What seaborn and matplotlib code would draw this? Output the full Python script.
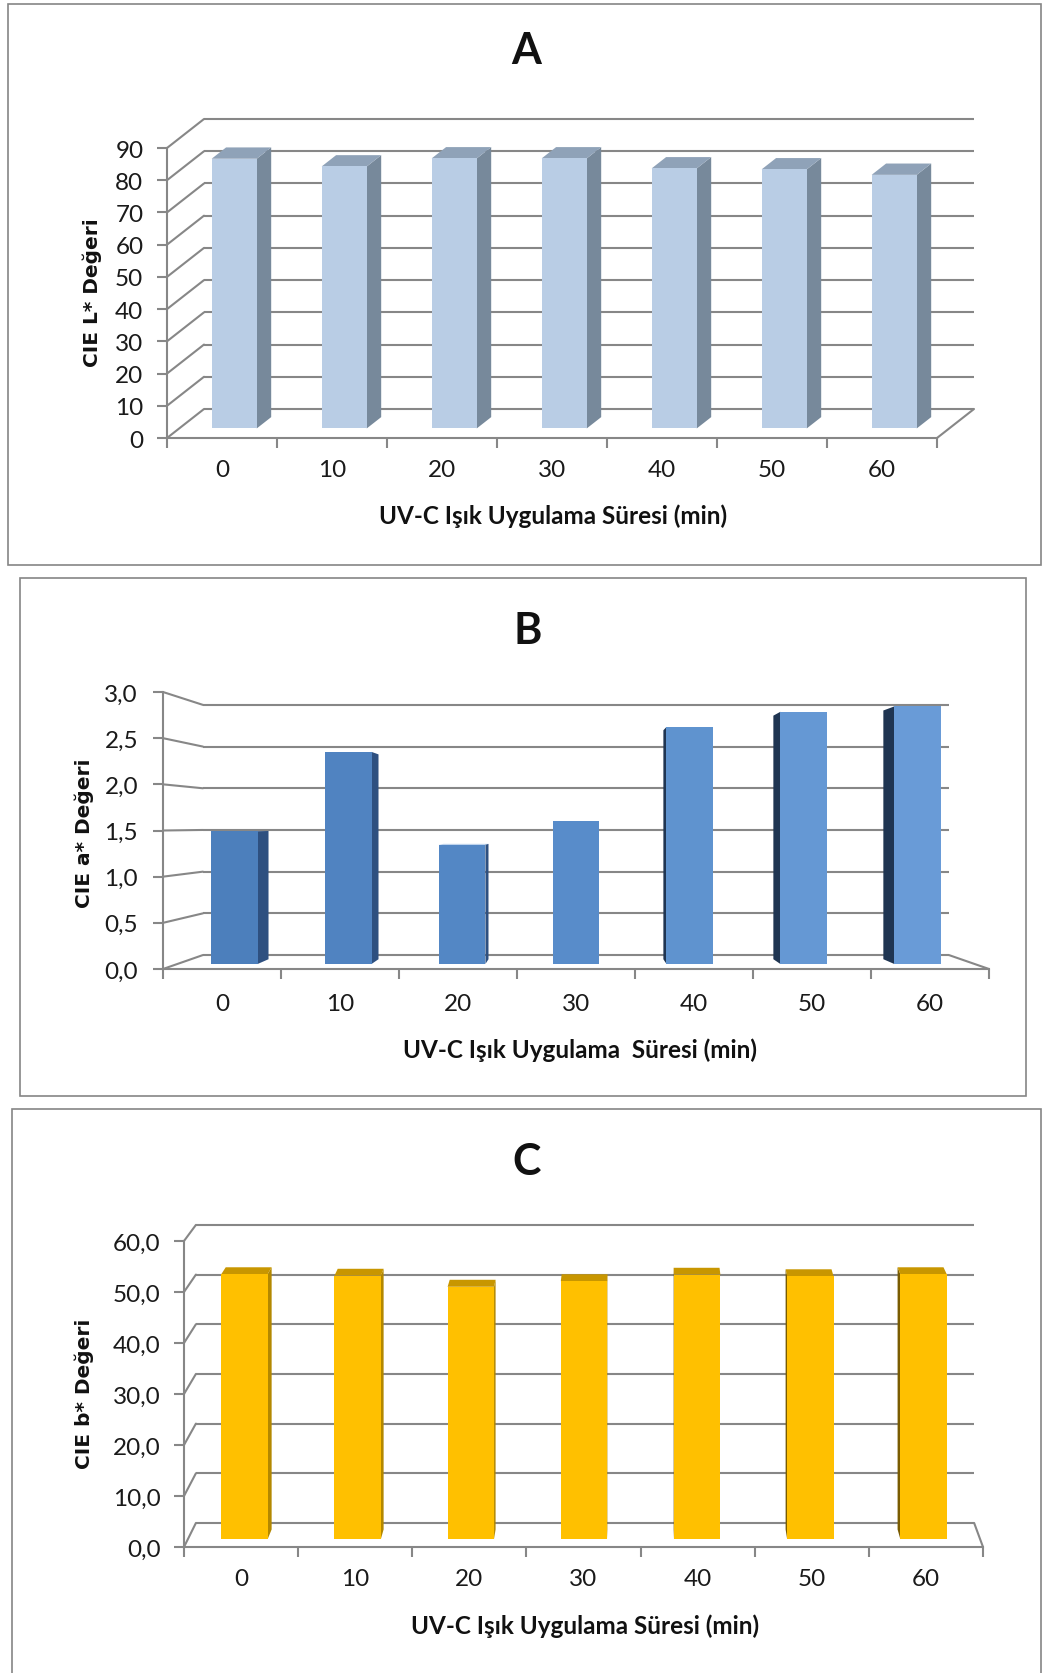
import numpy as np
import pandas as pd
import matplotlib
matplotlib.use('Agg')
import matplotlib.pyplot as plt
import seaborn as sns
from matplotlib.transforms import Affine2D, IdentityTransform
from matplotlib.patches import Polygon, Rectangle
from matplotlib.lines import Line2D

W, H = 1045, 1674

# ---------------- data ----------------
categories = ['0', '10', '20', '30', '40', '50', '60']
L_values = [83.7, 81.3, 83.8, 83.8, 80.7, 80.4, 78.7]
a_values = [1.49, 2.38, 1.34, 1.60, 2.66, 2.83, 2.89]
b_values = [52.4, 52.1, 49.9, 51.0, 52.3, 52.0, 52.4]
L_ticks = [0, 10, 20, 30, 40, 50, 60, 70, 80, 90]
L_ticklabels = ['0', '10', '20', '30', '40', '50', '60', '70', '80', '90']
a_ticks = [0.0, 0.5, 1.0, 1.5, 2.0, 2.5, 3.0]
a_ticklabels = ['0,0', '0,5', '1,0', '1,5', '2,0', '2,5', '3,0']
b_ticks = [0, 10, 20, 30, 40, 50, 60]
b_ticklabels = ['0,0', '10,0', '20,0', '30,0', '40,0', '50,0', '60,0']
titles = ['A', 'B', 'C']
ylabels = ['CIE L* Değeri', 'CIE a* Değeri', 'CIE b* Değeri']
xlabels = ['UV-C Işık Uygulama Süresi (min)',
           'UV-C Işık Uygulama  Süresi (min)',
           'UV-C Işık Uygulama Süresi (min)']

sns.set_theme(style='white')
plt.rcParams['font.family'] = ['Lato', 'Liberation Sans', 'DejaVu Sans']

GRID = '#878787'
LW = 1.5
TICKFONT = ['Lato', 'Open Sans', 'DejaVu Sans']
BOLDFONT = ['Lato', 'Liberation Sans', 'DejaVu Sans']

panels = [
    dict(values=L_values, ticks=L_ticks, ticklabels=L_ticklabels, ymax=90,
         frame=(8, 5, 1041, 566), axx=(167, 937), axy=(439, 149),
         s=1.0, anchor=(550, 300), off=(37, 29), f1=0.33, f2=0.72, bw=0.41,
         front=['#B9CDE5'] * 7, right='#77899B', left='#77899B', top='#8FA2B8',
         title_xy=(526, 51), xlabel_xy=(553, 516), ylabel_xy=(92, 293),
         ypad=10, xpad=15),
    dict(values=a_values, ticks=a_ticks, ticklabels=a_ticklabels, ymax=3.0,
         frame=(20, 579, 1026, 1097), axx=(163, 989), axy=(970, 693),
         s=0.903, anchor=(575, 826), off=(0, 0), f1=0.36, f2=0.70, bw=0.41,
         front=['#4C7FBC', '#5083C1', '#5387C5', '#588CCA', '#5F93CF', '#6598D4', '#699BD7'],
         right='#2E5080', left='#1F3552', top='#8DB2E0',
         title_xy=(528, 631), xlabel_xy=(580, 1050), ylabel_xy=(84, 833),
         ypad=11, xpad=17),
    dict(values=b_values, ticks=b_ticks, ticklabels=b_ticklabels, ymax=60,
         frame=(12, 1110, 1041, 1700), axx=(184, 983), axy=(1548, 1242),
         s=0.974, anchor=(642, 623), off=(0, 0), f1=0.33, f2=0.73, bw=0.41,
         front=['#FFC000'] * 7, right='#B38800', left='#7A5C00', top='#C89600',
         title_xy=(527, 1162), xlabel_xy=(585, 1626), ylabel_xy=(84, 1394),
         ypad=10, xpad=15),
]

fig = plt.figure(figsize=(W / 100, H / 100), dpi=100)
fig.patch.set_facecolor('white')


def plane_tf(p, f):
    s = 1.0 - f * (1.0 - p['s'])
    axp, ayp = p['anchor'][0], H - p['anchor'][1]
    ox, oy = p['off']
    return Affine2D().translate(-axp, -ayp).scale(s).translate(axp + f * ox, ayp + f * oy)


for i, p in enumerate(panels):
    fl, ft, fr, fb = p['frame']
    fig.add_artist(Rectangle((fl / W, 1 - fb / H), (fr - fl) / W, (fb - ft) / H,
                             transform=fig.transFigure, fill=False,
                             ec='#858585', lw=1.2, zorder=0))
    x0, x1 = p['axx']
    y0, y1 = p['axy']
    ax = fig.add_axes([x0 / W, (H - y0) / H, (x1 - x0) / W, (y0 - y1) / H])
    ax.set_facecolor('none')
    df = pd.DataFrame({'t': categories, 'v': p['values']})
    sns.barplot(data=df, x='t', y='v', hue='t', palette=p['front'], legend=False,
                width=p['bw'], saturation=1, linewidth=0, ax=ax)
    n = len(categories)
    ax.set_xlim(-0.5, n - 0.5)
    ax.set_ylim(0, p['ymax'])
    ax.set_xlabel('')
    ax.set_ylabel('')
    bars = list(ax.patches)

    T1 = ax.transData + plane_tf(p, p['f1'])
    T2 = ax.transData + plane_tf(p, p['f2'])
    TB = ax.transData + plane_tf(p, 1.0)

    # back wall grid + side connectors
    for v in p['ticks']:
        ax.add_line(Line2D([-0.5, n - 0.5], [v, v], transform=TB, color=GRID, lw=LW,
                           zorder=0.5, clip_on=False, solid_capstyle='butt'))
        a = ax.transData.transform((-0.5, v))
        b = TB.transform((-0.5, v))
        ax.add_line(Line2D([a[0], b[0]], [a[1], b[1]], transform=IdentityTransform(),
                           color=GRID, lw=LW, zorder=0.5, clip_on=False))
    a = ax.transData.transform((n - 0.5, 0))
    b = TB.transform((n - 0.5, 0))
    ax.add_line(Line2D([a[0], b[0]], [a[1], b[1]], transform=IdentityTransform(),
                       color=GRID, lw=LW, zorder=0.5, clip_on=False))

    # 3D bars
    for r in bars:
        bx, bwd, bh = r.get_x(), r.get_width(), r.get_height()
        xl, xr = bx, bx + bwd
        fr_bl = T1.transform((xl, 0)); fr_br = T1.transform((xr, 0))
        fr_tl = T1.transform((xl, bh)); fr_tr = T1.transform((xr, bh))
        bk_bl = T2.transform((xl, 0)); bk_br = T2.transform((xr, 0))
        bk_tl = T2.transform((xl, bh)); bk_tr = T2.transform((xr, bh))
        if bk_tr[0] > fr_tr[0] + 0.3:
            ax.add_patch(Polygon([fr_br, bk_br, bk_tr, fr_tr], closed=True,
                                 transform=IdentityTransform(), fc=p['right'],
                                 ec='none', zorder=2.5, clip_on=False))
        if bk_tl[0] < fr_tl[0] - 0.3:
            ax.add_patch(Polygon([fr_bl, bk_bl, bk_tl, fr_tl], closed=True,
                                 transform=IdentityTransform(), fc=p['left'],
                                 ec='none', zorder=2.5, clip_on=False))
        if bk_tl[1] > fr_tl[1] + 0.3:
            ax.add_patch(Polygon([fr_tl, fr_tr, bk_tr, bk_tl], closed=True,
                                 transform=IdentityTransform(), fc=p['top'],
                                 ec='none', zorder=2.6, clip_on=False))
        r.set_transform(T1)
        r.set_zorder(3)
        r.set_clip_on(False)

    # axes styling
    for side in ['top', 'right']:
        ax.spines[side].set_visible(False)
    for side in ['left', 'bottom']:
        ax.spines[side].set_color(GRID)
        ax.spines[side].set_linewidth(LW)
    ax.set_yticks(p['ticks'])
    ax.set_yticklabels(p['ticklabels'], fontfamily=TICKFONT, fontsize=17.5, color='#1a1a1a')
    ax.set_xticks(range(n))
    ax.set_xticklabels(categories, fontfamily=TICKFONT, fontsize=17.5, color='#1a1a1a')
    ax.set_xticks(np.arange(-0.5, n, 1.0), minor=True)
    ax.tick_params(axis='y', which='major', direction='out', length=7, width=LW,
                   color=GRID, pad=p['ypad'], left=True)
    ax.tick_params(axis='x', which='major', length=0, pad=p['xpad'], bottom=True)
    ax.tick_params(axis='x', which='minor', direction='out', length=7, width=LW,
                   color=GRID, bottom=True)
    ax.grid(False)

    tx, ty = p['title_xy']
    fig.text(tx / W, 1 - ty / H, titles[i], ha='center', va='center',
             fontsize=31, fontweight='bold', family=BOLDFONT, color='#111111')
    lx, ly = p['xlabel_xy']
    fig.text(lx / W, 1 - ly / H, xlabels[i], ha='center', va='center',
             fontsize=17.5, fontweight='bold', family=BOLDFONT, color='#111111')
    yx, yy = p['ylabel_xy']
    fig.text(yx / W, 1 - yy / H, ylabels[i], ha='center', va='center', rotation=90,
             fontsize=14.5, fontweight='bold', family=['DejaVu Sans'], color='#111111')

fig.savefig('out.png', dpi=100, facecolor='white')
